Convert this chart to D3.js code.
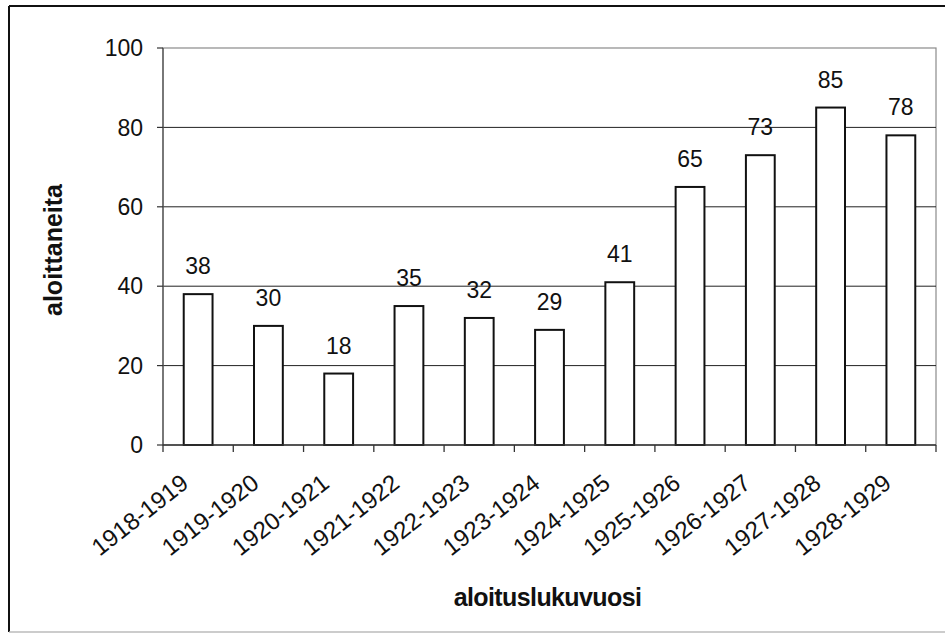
<!DOCTYPE html>
<html>
<head>
<meta charset="utf-8">
<script src="https://cdn.jsdelivr.net/npm/d3@7"></script>
<style>
  body { margin: 0; background: #fff; }
  text { font-family: "Liberation Sans", Arial, sans-serif; fill: #111; }
</style>
</head>
<body>
<svg id="chart" width="945" height="644"></svg>
<script>
// data
const years = ['1918-1919','1919-1920','1920-1921','1921-1922','1922-1923','1923-1924',
               '1924-1925','1925-1926','1926-1927','1927-1928','1928-1929'];
const starters = [38, 30, 18, 35, 32, 29, 41, 65, 73, 85, 78];
const yTicks = [0, 20, 40, 60, 80, 100];
const xTitle = 'aloituslukuvuosi';
const yTitle = 'aloittaneita';

const svg = d3.select('#chart');
const plot = {left: 163, right: 936, top: 48, bottom: 445};

// outer frame
svg.append('line').attr('x1', 9).attr('y1', 6).attr('x2', 945).attr('y2', 6)
   .attr('stroke', '#111').attr('stroke-width', 2);
svg.append('line').attr('x1', 9).attr('y1', 6).attr('x2', 9).attr('y2', 632)
   .attr('stroke', '#111').attr('stroke-width', 2);
svg.append('line').attr('x1', 9).attr('y1', 632).attr('x2', 945).attr('y2', 632)
   .attr('stroke', '#bbb').attr('stroke-width', 1.5);

let x = d3.scaleBand()
          .domain(years)
          .range([plot.left, plot.right])
          .paddingInner(0.59)
          .paddingOuter(0.295);
let xOuter = d3.scaleBand()
               .domain(years)
               .range([plot.left, plot.right]);
let y = d3.scaleLinear()
          .domain([0, 100])
          .range([plot.bottom, plot.top]);

// plot area border (grey)
svg.append('rect')
   .attr('x', plot.left).attr('y', plot.top)
   .attr('width', plot.right - plot.left).attr('height', plot.bottom - plot.top)
   .attr('fill', 'none').attr('stroke', '#8a8a8a').attr('stroke-width', 1.2);

// gridlines
svg.selectAll('.grid')
   .data(yTicks.filter(d => d > 0 && d < 100))
   .enter().append('line')
   .attr('x1', plot.left).attr('x2', plot.right)
   .attr('y1', d => y(d)).attr('y2', d => y(d))
   .attr('stroke', '#222').attr('stroke-width', 1);

// y axis
svg.append('line').attr('x1', plot.left).attr('x2', plot.left)
   .attr('y1', plot.top).attr('y2', plot.bottom)
   .attr('stroke', '#555').attr('stroke-width', 1.3);
svg.selectAll('.ytick')
   .data(yTicks).enter().append('line')
   .attr('x1', plot.left - 6).attr('x2', plot.left)
   .attr('y1', d => y(d)).attr('y2', d => y(d))
   .attr('stroke', '#333').attr('stroke-width', 1.2);
svg.selectAll('.ylab')
   .data(yTicks).enter().append('text')
   .attr('x', plot.left - 20)
   .attr('y', d => y(d))
   .attr('dy', '0.36em')
   .attr('text-anchor', 'end')
   .attr('font-size', '23px')
   .text(d => d);

// bars
svg.selectAll('.bar')
   .data(starters).enter().append('rect')
   .attr('x', (d, i) => x(years[i]))
   .attr('y', d => y(d))
   .attr('width', x.bandwidth())
   .attr('height', d => plot.bottom - y(d))
   .attr('fill', '#fff')
   .attr('stroke', '#111')
   .attr('stroke-width', 2);

// value labels
svg.selectAll('.val')
   .data(starters).enter().append('text')
   .attr('x', (d, i) => x(years[i]) + x.bandwidth() / 2)
   .attr('y', d => y(d) - 20)
   .attr('text-anchor', 'middle')
   .attr('font-size', '23px')
   .text(d => d);

// x axis
svg.append('line').attr('x1', plot.left).attr('x2', plot.right)
   .attr('y1', plot.bottom).attr('y2', plot.bottom)
   .attr('stroke', '#333').attr('stroke-width', 1.5);
svg.selectAll('.xtick')
   .data(years.concat(['end'])).enter().append('line')
   .attr('x1', (d, i) => plot.left + i * xOuter.bandwidth())
   .attr('x2', (d, i) => plot.left + i * xOuter.bandwidth())
   .attr('y1', plot.bottom).attr('y2', plot.bottom + 7)
   .attr('stroke', '#333').attr('stroke-width', 1.3);
svg.selectAll('.xlab')
   .data(years).enter().append('text')
   .attr('transform', d => 'translate(' + (xOuter(d) + xOuter.bandwidth() / 2 - 8) + ',' + (plot.bottom + 41) + ') rotate(-38)')
   .attr('text-anchor', 'end')
   .attr('font-size', '24px')
   .text(d => d);

// axis titles
svg.append('text')
   .attr('x', (plot.left + plot.right) / 2 - 2)
   .attr('y', 606)
   .attr('text-anchor', 'middle')
   .attr('font-size', '25px')
   .attr('font-weight', 'bold')
   .attr('letter-spacing', '-0.6px')
   .text(xTitle);
svg.append('text')
   .attr('transform', 'translate(62,250) rotate(-90)')
   .attr('text-anchor', 'middle')
   .attr('font-size', '25px')
   .attr('font-weight', 'bold')
   .text(yTitle);
</script>
</body>
</html>
